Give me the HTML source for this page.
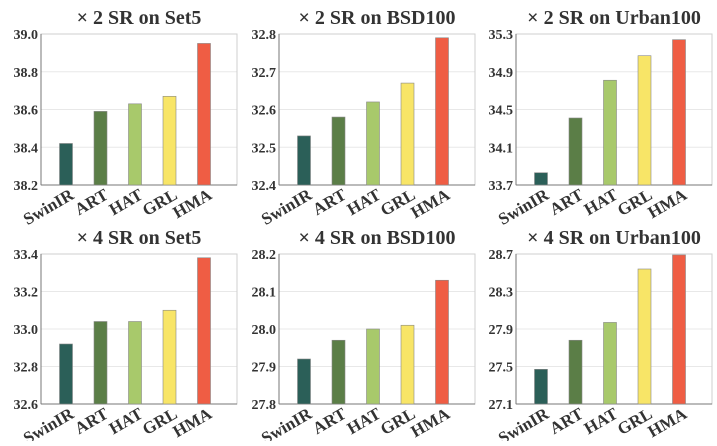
<!DOCTYPE html>
<html><head><meta charset="utf-8"><style>
html,body{margin:0;padding:0;background:#fff;}
</style></head><body>
<svg id="s" width="717" height="441" viewBox="0 0 717 441" xmlns="http://www.w3.org/2000/svg"></svg>
<script>
const P=[
{t:"× 2 SR on Set5",min:38.2,max:39.0,st:0.2,v:[38.42,38.59,38.63,38.67,38.95],r:237,top:34,bot:185},
{t:"× 2 SR on BSD100",min:32.4,max:32.8,st:0.1,v:[32.53,32.58,32.62,32.67,32.79],r:475,top:34,bot:185},
{t:"× 2 SR on Urban100",min:33.7,max:35.3,st:0.4,v:[33.83,34.41,34.81,35.07,35.24],r:712,top:34,bot:185},
{t:"× 4 SR on Set5",min:32.6,max:33.4,st:0.2,v:[32.92,33.04,33.04,33.10,33.38],r:237,top:254,bot:404},
{t:"× 4 SR on BSD100",min:27.8,max:28.2,st:0.1,v:[27.92,27.97,28.00,28.01,28.13],r:475,top:254,bot:404},
{t:"× 4 SR on Urban100",min:27.1,max:28.7,st:0.4,v:[27.47,27.78,27.97,28.54,28.69],r:712,top:254,bot:404}];
const C=["#2b5f58","#5b7e47","#a8c96b","#f8e567","#ef5d44"];
const N=["SwinIR","ART","HAT","GRL","HMA"];
const F=`font-family="'Liberation Serif','DejaVu Serif',serif" font-weight="bold"`;
let h="";
for(const p of P){
 const L=p.r-196,R=p.r,T=p.top,B=p.bot;
 const y=v=>B-(v-p.min)/(p.max-p.min)*(B-T);
 h+=`<text ${F} x="${(L+R)/2}" y="${T-10}" text-anchor="middle" font-size="20" fill="#333">${p.t}</text>`;
 const n=Math.round((p.max-p.min)/p.st);
 for(let i=0;i<=n;i++){const v=p.min+i*p.st,yy=y(v);
  if(i>0&&i<n)h+=`<line x1="${L}" x2="${R}" y1="${yy}" y2="${yy}" stroke="#e8e8e8" stroke-width="1"/>`;
  h+=`<text ${F} x="${L-3}" y="${yy+5}" text-anchor="end" font-size="14" fill="#333">${v.toFixed(1)}</text>`;}
 h+=`<rect x="${L}" y="${T}" width="${R-L}" height="${B-T}" fill="none" stroke="#cfcfcf"/>`;
 h+=`<line x1="${L}" x2="${L}" y1="${T}" y2="${B}" stroke="#777"/><line x1="${L}" x2="${R}" y1="${B}" y2="${B}" stroke="#777"/>`;
 p.v.forEach((v,i)=>{const cx=R-33-(4-i)*34.5,yy=y(v);
  h+=`<rect x="${cx-6.5}" y="${yy}" width="13" height="${B-yy}" fill="${C[i]}" stroke="#888" stroke-width="0.6"/>`;
  h+=`<text ${F} transform="translate(${cx+9},${B+13}) rotate(-30)" text-anchor="end" font-size="17" fill="#333">${N[i]}</text>`;});
}
document.getElementById("s").innerHTML=h;
</script>
</body></html>
